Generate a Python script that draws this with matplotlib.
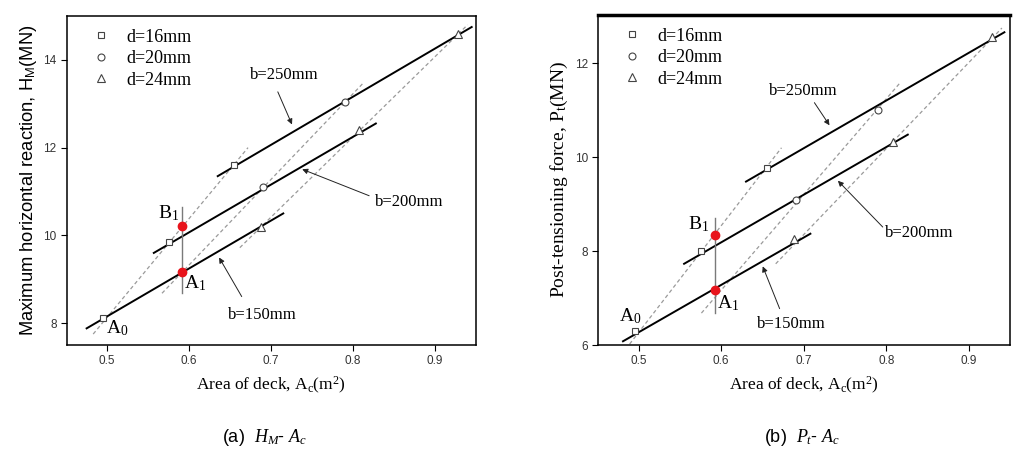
import numpy as np
import matplotlib
matplotlib.use("Agg")
import matplotlib.pyplot as plt

plt.rcParams['mathtext.fontset'] = 'custom'
plt.rcParams['mathtext.rm'] = 'Liberation Serif'
plt.rcParams['mathtext.it'] = 'Liberation Serif:italic'
plt.rcParams['mathtext.sf'] = 'Liberation Sans'

SERIF = 'Liberation Serif'
SANS = 'Liberation Sans'

# deck area of each specimen, grouped by bolt diameter d (b = 150, 200, 250 mm)
area_d16 = [0.495, 0.575, 0.655]
area_d20 = [0.592, 0.690, 0.790]
area_d24 = [0.688, 0.808, 0.928]

# (a) maximum horizontal reaction H_M (MN)
hm_d16 = [8.12, 9.85, 11.60]
hm_d20 = [9.17, 11.10, 13.05]
hm_d24 = [10.20, 12.40, 14.60]

# (b) post-tensioning force P_t (MN)
pt_d16 = [6.30, 8.00, 9.78]
pt_d20 = [7.17, 9.08, 11.00]
pt_d24 = [8.25, 10.33, 12.55]

# fitted lines for constant b (x0, x1, y0, y1)
hm_b_lines = {150: ([0.475, 0.715], [7.88, 10.50]),
              200: ([0.557, 0.828], [9.60, 12.55]),
              250: ([0.635, 0.945], [11.35, 14.75])}
pt_b_lines = {150: ([0.481, 0.708], [6.08, 8.37]),
              200: ([0.555, 0.826], [7.73, 10.48]),
              250: ([0.630, 0.943], [9.48, 12.66])}

# dashed lines for constant d
hm_d_lines = {16: ([0.483, 0.672], [7.75, 12.00]),
              20: ([0.567, 0.812], [8.68, 13.46]),
              24: ([0.662, 0.940], [9.72, 14.80])}
pt_d_lines = {16: ([0.489, 0.673], [6.02, 10.20]),
              20: ([0.576, 0.816], [6.68, 11.57]),
              24: ([0.666, 0.940], [7.73, 12.75])}

# red points A1 / B1 and the vertical guide
x_ab = 0.592
hm_ab = [9.17, 10.22]
pt_ab = [7.17, 8.35]
hm_vline = [8.68, 10.64]
pt_vline = [6.68, 8.71]

fig = plt.figure(figsize=(10.35, 4.65), dpi=100)
ax1 = fig.add_axes([0.0647, 0.258, 0.395, 0.7075])
ax2 = fig.add_axes([0.578, 0.258, 0.398, 0.710])


def draw(ax, yd16, yd20, yd24, b_lines, d_lines, y_ab, vline):
    for xs, ys in d_lines.values():
        ax.plot(xs, ys, color='#9a9a9a', lw=0.9, dashes=(3, 2.2), zorder=1)
    for xs, ys in b_lines.values():
        ax.plot(xs, ys, color='black', lw=1.4, zorder=2)
    ax.plot([x_ab, x_ab], vline, color='#7a7a7a', lw=1.0, zorder=2)
    mk = dict(ls='none', mfc='white', mec='#444444', mew=0.8, zorder=3)
    ax.plot(area_d16, yd16, marker='s', ms=4.5, label='d=16mm', **mk)
    ax.plot(area_d20, yd20, marker='o', ms=5, label='d=20mm', **mk)
    ax.plot(area_d24, yd24, marker='^', ms=5.5, label='d=24mm', **mk)
    ax.plot([x_ab, x_ab], y_ab, 'o', color='#e8141c', ms=6, zorder=4)
    ax.legend(loc='upper left', frameon=False, prop={'family': SERIF, 'size': 13},
              handletextpad=0.8, labelspacing=0.25, borderaxespad=0.3,
              bbox_to_anchor=(0.025, 1.0), handlelength=1.2)
    ax.set_xlim(0.451, 0.95)
    ax.set_xticks([0.5, 0.6, 0.7, 0.8, 0.9])
    ax.tick_params(direction='out', length=4, width=0.8, labelsize=8.5, labelcolor='#333333')
    for lab in ax.get_xticklabels() + ax.get_yticklabels():
        lab.set_family(SANS)
    for s in ax.spines.values():
        s.set_linewidth(1.1)
    ax.set_xlabel(r'Area of deck, A$_\mathrm{c}$(m$^\mathrm{2}$)', family=SERIF, fontsize=12.5, labelpad=5)


def note(ax, text, xy_text, tail, tip):
    ax.text(*xy_text, text, family=SERIF, fontsize=12, ha='center', va='center')
    ax.annotate('', xy=tip, xytext=tail,
                arrowprops=dict(arrowstyle='-|>', lw=0.7, color='#222222', mutation_scale=8))


def label(ax, base, sub, xy):
    ax.text(*xy, r'%s$_\mathrm{%s}$' % (base, sub), family=SERIF, fontsize=14, ha='center', va='center')


# (a)
draw(ax1, hm_d16, hm_d20, hm_d24, hm_b_lines, hm_d_lines, hm_ab, hm_vline)
ax1.set_ylim(7.5, 15.0)
ax1.set_yticks([8, 10, 12, 14])
ax1.set_ylabel(r'Maximum horizontal reaction, H$_\mathsf{M}$(MN)', family=SANS, fontsize=13.2, labelpad=3)
note(ax1, 'b=250mm', (0.716, 13.66), (0.707, 13.33), (0.727, 12.47))
note(ax1, 'b=200mm', (0.869, 10.76), (0.823, 10.88), (0.735, 11.53))
note(ax1, 'b=150mm', (0.689, 8.18), (0.666, 8.55), (0.635, 9.55))
label(ax1, 'B', '1', (0.575, 10.50))
label(ax1, 'A', '1', (0.607, 8.91))
label(ax1, 'A', '0', (0.512, 7.88))

# (b)
draw(ax2, pt_d16, pt_d20, pt_d24, pt_b_lines, pt_d_lines, pt_ab, pt_vline)
ax2.set_ylim(6.0, 13.03)
ax2.set_yticks([6, 8, 10, 12])
ax2.spines['top'].set_linewidth(2.5)
ax2.set_ylabel(r'Post-tensioning force, P$_\mathrm{t}$(MN)', family=SERIF, fontsize=14, labelpad=3)
note(ax2, 'b=250mm', (0.700, 11.40), (0.711, 11.21), (0.733, 10.63))
note(ax2, 'b=200mm', (0.840, 8.39), (0.798, 8.47), (0.739, 9.54))
note(ax2, 'b=150mm', (0.685, 6.44), (0.672, 6.72), (0.649, 7.73))
label(ax2, 'B', '1', (0.573, 8.58))
label(ax2, 'A', '1', (0.608, 6.89))
label(ax2, 'A', '0', (0.490, 6.62))

fig.text(0.256, 0.06, r'(a)  $H_M$- $A_c$', fontsize=13, ha='center', va='center', family=SANS)
fig.text(0.775, 0.06, r'(b)  $P_t$- $A_c$', fontsize=13, ha='center', va='center', family=SANS)

fig.savefig('out.png', dpi=100)
